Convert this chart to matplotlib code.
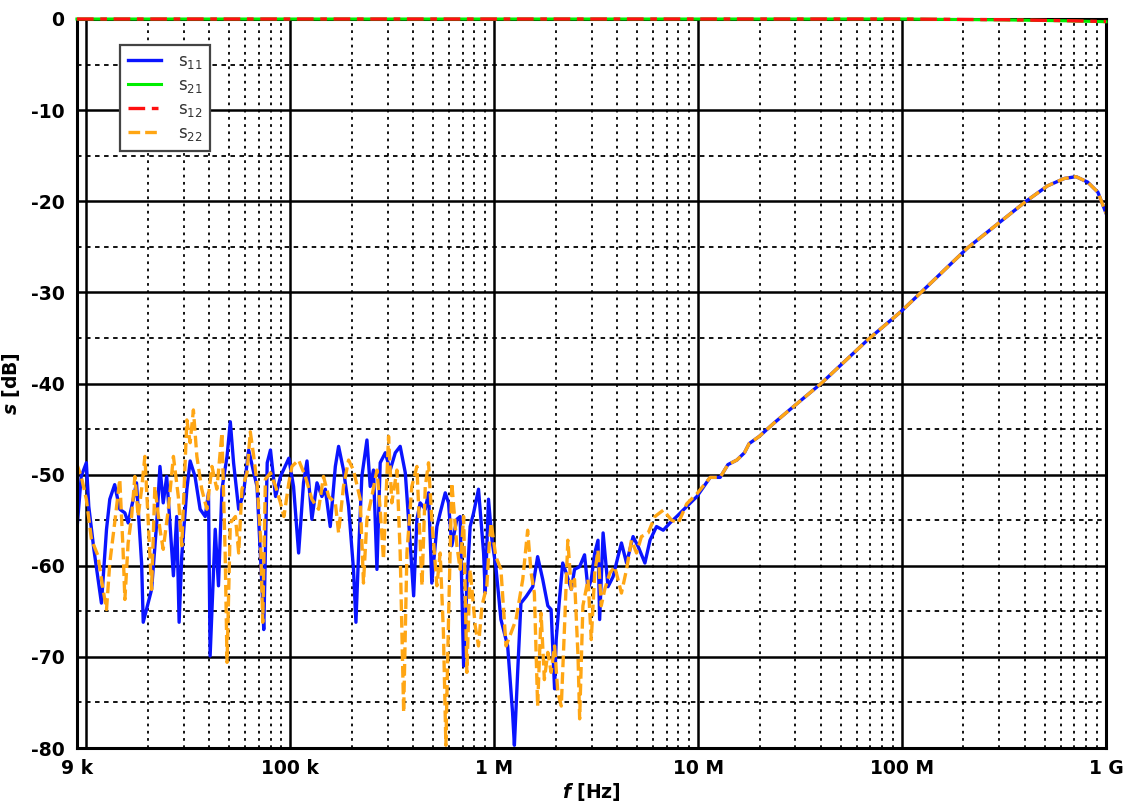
import numpy as np
import matplotlib
matplotlib.use("Agg")
import matplotlib.pyplot as plt

# ---------------- data (log10 of frequency in Hz, level in dB) ----------------
s11_logf = [3.951, 3.975, 4.000, 4.012, 4.037, 4.074, 4.099, 4.115, 4.139, 4.164, 4.189, 4.205,
            4.230, 4.246, 4.271, 4.279, 4.320, 4.345, 4.361, 4.377, 4.394, 4.410, 4.427, 4.443,
            4.455, 4.468, 4.493, 4.509, 4.533, 4.558, 4.583, 4.599, 4.607, 4.632, 4.648, 4.665,
            4.690, 4.706, 4.722, 4.747, 4.771, 4.796, 4.821, 4.837, 4.862, 4.870, 4.887, 4.903,
            4.928, 4.952, 4.993, 5.016, 5.041, 5.065, 5.082, 5.106, 5.131, 5.155, 5.172, 5.196,
            5.221, 5.237, 5.261, 5.286, 5.310, 5.322, 5.335, 5.351, 5.376, 5.392, 5.408, 5.425,
            5.441, 5.466, 5.490, 5.515, 5.539, 5.564, 5.580, 5.605, 5.621, 5.637, 5.662, 5.678,
            5.694, 5.719, 5.735, 5.760, 5.776, 5.792, 5.817, 5.833, 5.850, 5.866, 5.882, 5.899,
            5.923, 5.948, 5.956, 5.972, 5.989, 6.008, 6.033, 6.066, 6.090, 6.099, 6.115, 6.131,
            6.156, 6.189, 6.213, 6.238, 6.263, 6.279, 6.296, 6.304, 6.320, 6.336, 6.353, 6.378,
            6.394, 6.419, 6.443, 6.460, 6.476, 6.493, 6.509, 6.517, 6.534, 6.558, 6.583, 6.607,
            6.624, 6.649, 6.681, 6.706, 6.739, 6.764, 6.796, 6.829, 6.862, 6.895, 6.944, 6.994,
            7.059, 7.108]
s11_db = [-56.8, -50.2, -48.7, -53.5, -58.2, -64.1, -56.0, -52.7, -51.1, -53.8, -54.2, -55.3,
          -52.7, -50.9, -59.7, -66.2, -62.6, -55.3, -49.1, -53.1, -50.2, -55.3, -61.1, -54.6,
          -66.2, -58.9, -51.6, -48.5, -50.2, -53.8, -54.6, -52.0, -69.9, -56.0, -62.2, -51.6,
          -48.0, -44.2, -48.7, -53.8, -52.0, -47.3, -49.8, -51.3, -62.6, -67.0, -48.7, -47.3,
          -52.4, -50.2, -48.2, -51.3, -58.6, -50.9, -48.5, -54.9, -50.9, -52.4, -51.6, -55.7,
          -49.1, -46.9, -49.5, -53.5, -60.4, -66.2, -58.6, -50.2, -46.2, -51.3, -49.5, -60.4,
          -48.7, -47.6, -49.5, -47.6, -46.9, -49.8, -54.9, -63.3, -54.9, -53.1, -53.8, -52.0,
          -61.9, -55.7, -54.2, -52.0, -53.1, -57.8, -54.9, -54.6, -71.0, -62.2, -55.7, -54.2,
          -51.6, -58.6, -63.0, -52.7, -57.2, -60.1, -65.9, -68.8, -76.1, -79.7, -71.7, -64.1,
          -63.4, -62.3, -59.0, -61.5, -64.4, -64.8, -73.5, -68.1, -63.7, -59.7, -60.8, -62.6,
          -60.4, -60.1, -58.8, -62.6, -61.5, -58.6, -57.2, -65.9, -56.4, -62.3, -61.2, -59.0,
          -57.5, -59.7, -56.8, -57.9, -59.7, -57.2, -55.7, -56.1, -55.3, -54.6, -53.5, -52.4,
          -50.3, -50.3]

s22_logf = [3.951, 3.975, 4.000, 4.025, 4.057, 4.082, 4.099, 4.115, 4.139, 4.164, 4.180, 4.189,
            4.205, 4.222, 4.238, 4.254, 4.271, 4.287, 4.303, 4.320, 4.336, 4.361, 4.377, 4.402,
            4.427, 4.451, 4.468, 4.493, 4.509, 4.525, 4.542, 4.566, 4.591, 4.616, 4.640, 4.665,
            4.681, 4.690, 4.706, 4.731, 4.747, 4.763, 4.788, 4.804, 4.821, 4.837, 4.854, 4.865,
            4.878, 4.903, 4.928, 4.952, 4.969, 4.993, 5.008, 5.041, 5.074, 5.106, 5.139, 5.163,
            5.188, 5.221, 5.237, 5.261, 5.286, 5.310, 5.343, 5.359, 5.376, 5.400, 5.425, 5.441,
            5.457, 5.482, 5.498, 5.523, 5.539, 5.556, 5.572, 5.596, 5.621, 5.646, 5.662, 5.678,
            5.694, 5.719, 5.735, 5.751, 5.763, 5.776, 5.792, 5.817, 5.833, 5.850, 5.866, 5.882,
            5.907, 5.923, 5.940, 5.964, 5.975, 5.985, 6.008, 6.033, 6.058, 6.082, 6.107, 6.140,
            6.164, 6.181, 6.197, 6.213, 6.230, 6.246, 6.263, 6.279, 6.296, 6.312, 6.329, 6.345,
            6.361, 6.378, 6.394, 6.411, 6.419, 6.435, 6.460, 6.476, 6.493, 6.509, 6.525, 6.542,
            6.567, 6.591, 6.607, 6.624, 6.649, 6.673, 6.698, 6.722, 6.755, 6.788, 6.829, 6.870,
            6.903, 6.944, 6.994, 7.059, 7.108]
s22_db = [-48.7, -50.2, -52.7, -57.1, -58.9, -62.6, -64.8, -59.7, -55.3, -50.5, -58.2, -63.7,
          -57.5, -54.6, -50.2, -54.6, -51.6, -48.0, -54.9, -62.6, -51.3, -56.0, -58.2, -53.8,
          -48.0, -52.4, -57.8, -44.0, -46.5, -42.9, -48.0, -51.6, -53.8, -49.1, -51.6, -45.4,
          -58.9, -70.6, -55.3, -54.6, -58.6, -51.6, -49.8, -45.3, -48.0, -50.9, -56.8, -66.2,
          -50.5, -49.8, -51.3, -53.1, -54.6, -50.9, -49.1, -48.4, -50.2, -52.7, -53.8, -50.2,
          -52.4, -53.1, -56.4, -51.3, -48.4, -49.5, -52.7, -61.9, -54.9, -52.4, -49.5, -53.8,
          -59.3, -45.8, -53.1, -49.5, -58.6, -76.1, -58.6, -51.3, -49.1, -62.2, -51.3, -48.7,
          -54.9, -62.2, -58.6, -67.3, -79.7, -65.9, -50.9, -57.8, -60.4, -54.6, -71.7, -60.4,
          -66.6, -68.8, -64.4, -62.2, -57.9, -55.3, -59.0, -60.4, -68.8, -67.4, -65.9, -61.5,
          -56.1, -60.8, -63.0, -75.4, -65.2, -72.5, -69.5, -71.7, -68.8, -73.9, -75.4, -66.6,
          -57.2, -62.6, -61.5, -69.9, -76.8, -64.4, -61.5, -68.1, -60.8, -58.3, -64.4, -62.6,
          -60.8, -60.1, -61.5, -63.0, -60.4, -57.2, -58.6, -56.8, -56.4, -54.6, -53.9, -55.0,
          -55.3, -53.2, -52.1, -50.3, -50.3]

# smooth high-frequency part shared by S11 and S22
hf_logf = [7.146, 7.190, 7.227, 7.250, 7.300, 7.374, 7.480, 7.603, 7.832, 7.995, 8.093,
           8.322, 8.485, 8.608, 8.714, 8.796, 8.853, 8.910, 8.960, 9.000]
hf_db = [-48.9, -48.4, -47.6, -46.6, -45.8, -44.3, -42.3, -40.0, -35.2, -32.1, -30.0,
         -25.1, -22.2, -20.0, -18.3, -17.5, -17.3, -17.9, -19.0, -21.3]

s21_logf = [3.954, 8.000, 8.500, 8.800, 9.000]
s21_db = [0.0, 0.0, -0.1, -0.2, -0.3]
s12_logf = [3.954, 8.000, 8.500, 8.800, 9.000]
s12_db = [0.0, 0.0, -0.08, -0.18, -0.28]

xtick_vals = [9e3, 1e5, 1e6, 1e7, 1e8, 1e9]
xtick_labels = ["9 k", "100 k", "1 M", "10 M", "100 M", "1 G"]
ytick_vals = [0, -10, -20, -30, -40, -50, -60, -70, -80]

# ---------------- style ----------------
plt.rcParams["axes.unicode_minus"] = False
plt.rcParams["font.family"] = ["DejaVu Sans"]
plt.rcParams["mathtext.fontset"] = "custom"
plt.rcParams["mathtext.it"] = "DejaVu Sans:italic:bold"
plt.rcParams["mathtext.rm"] = "DejaVu Sans"

fig = plt.figure(figsize=(11.29, 8.01), dpi=100)
ax = fig.add_axes([77 / 1129, 1 - 748 / 801, (1106 - 77) / 1129, (748 - 19) / 801])

f11 = 10 ** np.array(s11_logf + hf_logf)
d11 = np.array(s11_db + hf_db)
f22 = 10 ** np.array(s22_logf + hf_logf)
d22 = np.array(s22_db + hf_db)

ax.set_xscale("log")
ax.set_xlim(9e3, 1e9)
ax.set_ylim(-80, 0)

# grid
for dec in range(4, 9):
    for m in range(2, 10):
        ax.axvline(m * 10 ** dec, color="black", lw=1.3, ls=(0, (1.5, 2.5)), zorder=1)
for dec in range(4, 10):
    ax.axvline(10 ** dec, color="black", lw=1.8, zorder=1)
for y in range(-75, 0, 10):
    ax.axhline(y, color="black", lw=1.3, ls=(0, (2.5, 2.5)), zorder=1)
for y in range(-70, 0, 10):
    ax.axhline(y, color="black", lw=1.8, zorder=1)

ax.plot(f11, d11, color="#0a14ff", lw=2.4, label=r"$\mathrm{s}_{11}$", zorder=3)
ax.plot(10 ** np.array(s21_logf), s21_db, color="#00ee00", lw=2.2,
        label=r"$\mathrm{s}_{21}$", zorder=6, clip_on=False)
ax.plot(10 ** np.array(s12_logf), s12_db, color="#ff1010", lw=2.4, ls=(0, (5, 2, 2, 2)),
        label=r"$\mathrm{s}_{12}$", zorder=7, clip_on=False)
ax.plot(f22, d22, color="#ffa614", lw=2.4, ls=(0, (3.5, 1.5)),
        label=r"$\mathrm{s}_{22}$", zorder=3)

ax.set_xticks(xtick_vals)
ax.set_xticklabels(xtick_labels)
ax.xaxis.set_minor_locator(matplotlib.ticker.NullLocator())
ax.set_yticks(ytick_vals)
ax.set_yticklabels([str(v) for v in ytick_vals])
ax.tick_params(axis="both", length=0, labelsize=13.5)
ax.tick_params(axis="x", pad=8)
ax.tick_params(axis="y", pad=9)
for lbl in ax.get_xticklabels() + ax.get_yticklabels():
    lbl.set_fontweight("bold")

for sp in ax.spines.values():
    sp.set_linewidth(2.2)
    sp.set_color("black")
    sp.set_zorder(5)

ax.set_xlabel(r"$f$ [Hz]", fontsize=13.5, fontweight="bold", labelpad=2)
ax.set_ylabel(r"$s$ [dB]", fontsize=13.5, fontweight="bold", labelpad=6)

leg = ax.legend(loc="upper left", bbox_to_anchor=(0.042, 0.965), borderaxespad=0,
                fontsize=12, handlelength=2.0, labelspacing=0.3, borderpad=0.45,
                fancybox=False, framealpha=1, edgecolor="#444444", handletextpad=1.0)
leg.get_frame().set_linewidth(1.6)
leg.set_zorder(10)
for t in leg.get_texts():
    t.set_color("#333333")

fig.savefig("out.png", dpi=100)
